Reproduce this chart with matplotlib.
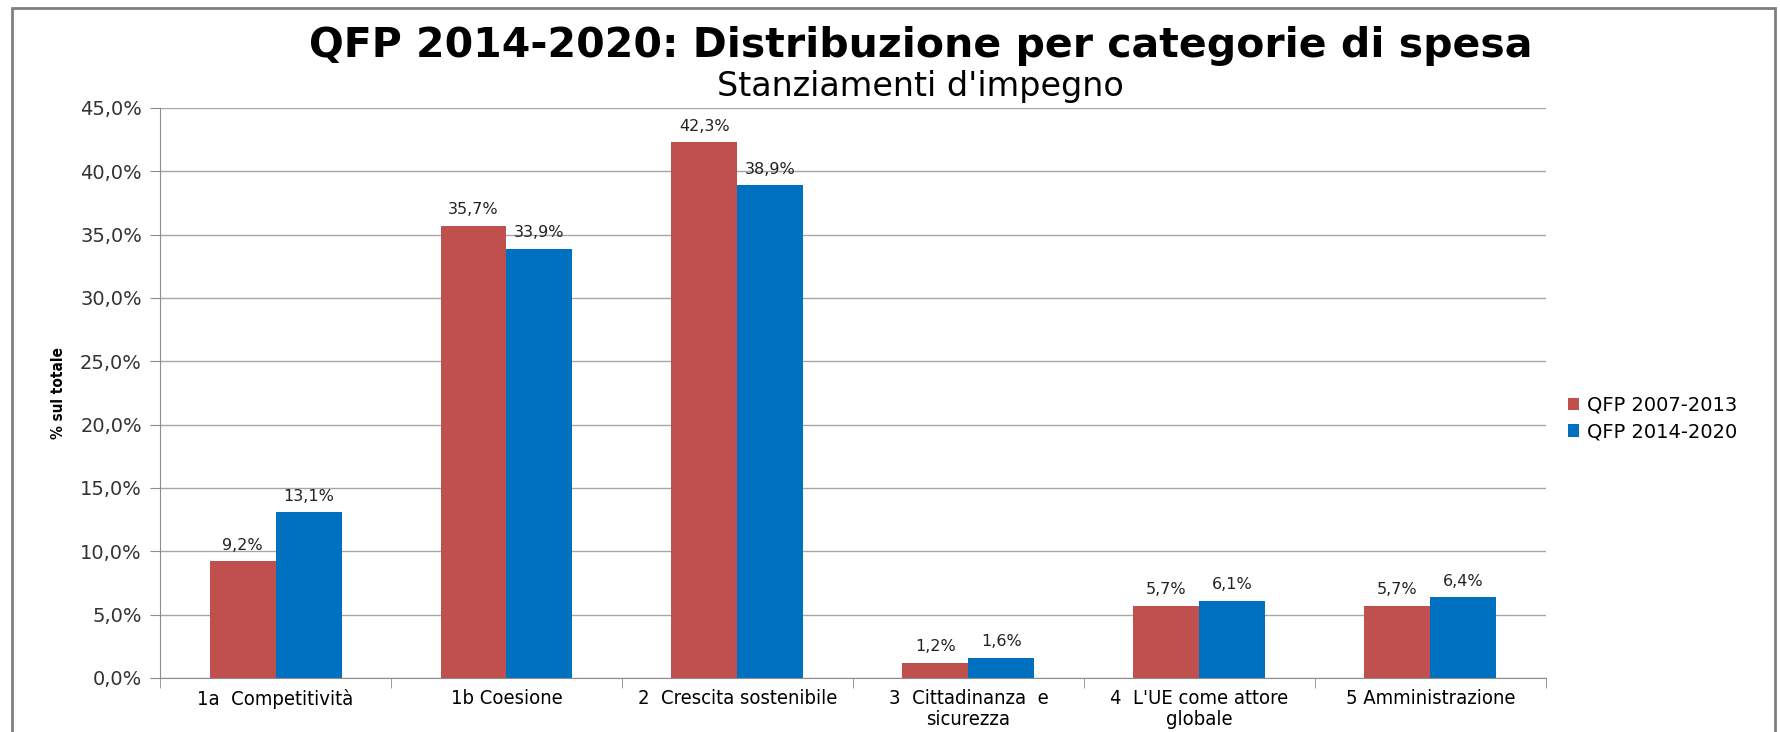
import matplotlib.pyplot as plt
import numpy as np
from matplotlib.patches import Rectangle
from matplotlib.ticker import FuncFormatter, FixedLocator

# data
categories = ["1a  Competitività", "1b Coesione", "2  Crescita sostenibile",
              "3  Cittadinanza  e\nsicurezza", "4  L'UE come attore\nglobale",
              "5 Amministrazione"]
qfp_2007_2013 = [9.2, 35.7, 42.3, 1.2, 5.7, 5.7]
qfp_2014_2020 = [13.1, 33.9, 38.9, 1.6, 6.1, 6.4]
series_names = ["QFP 2007-2013", "QFP 2014-2020"]

red = "#C0504D"
blue = "#0070C0"
grey = "#8C8C8C"

fig = plt.figure(figsize=(17.8, 7.32), dpi=100)
ax = fig.add_axes([0.0899, 0.0738, 0.8685 - 0.0899, 0.8525 - 0.0738])

x = np.arange(len(categories))
w = 1 / 3.5
b1 = ax.bar(x - w / 2, qfp_2007_2013, w, color=red, label=series_names[0])
b2 = ax.bar(x + w / 2, qfp_2014_2020, w, color=blue, label=series_names[1])

for bars, vals in ((b1, qfp_2007_2013), (b2, qfp_2014_2020)):
    for bar, v in zip(bars, vals):
        ax.annotate(("%.1f%%" % v).replace(".", ","),
                    (bar.get_x() + bar.get_width() / 2, v),
                    xytext=(0, 6), textcoords="offset points",
                    ha="center", va="bottom", fontsize=11.5, color="#222222")

ax.set_xlim(-0.5, len(categories) - 0.5)
ax.set_ylim(0, 45)
ax.set_yticks(np.arange(0, 45.1, 5))
ax.yaxis.set_major_formatter(FuncFormatter(lambda v, p: ("%.1f%%" % v).replace(".", ",")))
ax.yaxis.grid(True, color="#A6A6A6", linewidth=1)
ax.set_axisbelow(True)

# category labels centred, tick marks between categories
ax.set_xticks(x)
ax.set_xticklabels(categories, fontsize=14.5, fontstretch="condensed", linespacing=1.1)
ax.tick_params(axis="x", length=0, pad=8)
ax.xaxis.set_minor_locator(FixedLocator(np.arange(-0.5, len(categories), 1)))
ax.tick_params(axis="x", which="minor", length=7, color=grey)
ax.tick_params(axis="y", length=7, color=grey, labelsize=14, pad=6, labelcolor="#333333")

for s in ("top", "right"):
    ax.spines[s].set_visible(False)
for s in ("left", "bottom"):
    ax.spines[s].set_color(grey)

ax.set_ylabel("% sul totale", fontsize=11, fontweight="heavy", fontstretch="condensed",
              labelpad=10)

fig.text(0.517, 0.937, "QFP 2014-2020: Distribuzione per categorie di spesa",
         ha="center", va="center", fontsize=29.5, fontweight="bold")
fig.text(0.517, 0.882, "Stanziamenti d'impegno", ha="center", va="center", fontsize=24)

ax.legend(loc="center left", bbox_to_anchor=(1.003, 0.455), frameon=False,
          fontsize=14, handlelength=0.6, handleheight=0.6, labelspacing=0.4,
          handletextpad=0.4)

# outer chart frame
fig.patches.append(Rectangle((12 / 1780, -0.1), 1763 / 1780, 1.1 - 8 / 732,
                             transform=fig.transFigure, fill=False,
                             edgecolor="#7F7F7F", linewidth=2))

fig.savefig("out.png", dpi=100)
